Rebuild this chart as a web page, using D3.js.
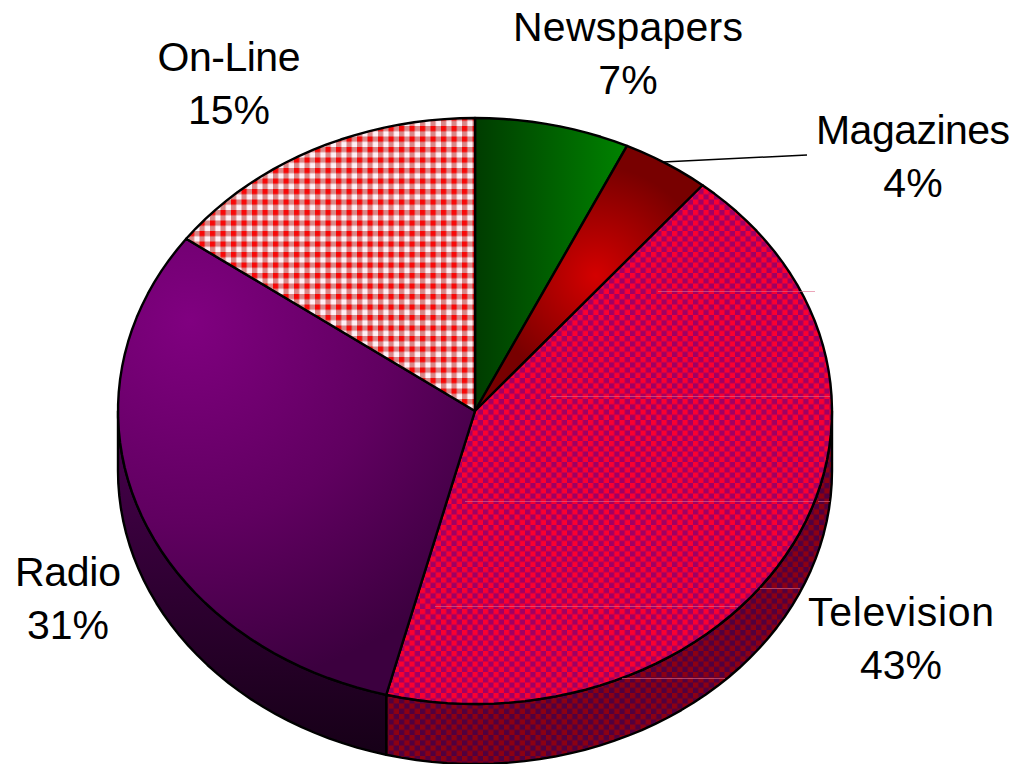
<!DOCTYPE html>
<html>
<head>
<meta charset="utf-8">
<style>
  html, body { margin: 0; padding: 0; background: #fff; overflow: hidden; }
  svg { display: block; }
  text { font-family: "Liberation Sans", Arial, sans-serif; font-size: 41px; fill: #000; text-anchor: middle; }
</style>
<script src="https://cdn.jsdelivr.net/npm/d3@7/dist/d3.min.js"></script>
</head>
<body>
<svg id="chart" width="1016" height="764"></svg>
<script>
// Media share, drawn clockwise from twelve o'clock.
const categories = ["Newspapers", "Magazines", "Television", "Radio", "On-Line"];
const shares = [7, 4, 43, 31, 15];
const sliceFills = ["url(#newsFill)", "url(#magFill)", "url(#tvFill)", "url(#radioFill)", "url(#onlineFill)"];
const wallFills = [null, null, "url(#tvWall)", "url(#radioWall)", null];

// Label anchor for each category: centre x, first baseline, set width of the name.
const labelX = [628, 913, 901, 68, 229];
const labelY = [41, 144, 626, 586, 71];
const labelWidth = [230, 194, 186, 106, 143];

// Thin highlight rules left over from the chart's banded rendering.
const ruleY = [291, 396, 501, 606, 501, 588, 678];
const ruleX0 = [658, 550, 465, 435, 818, 760, 622];
const ruleX1 = [815, 830, 813, 738, 830, 800, 725];

const cx = 475, cy = 411, rx = 357, ry = 293, depth = 60;
const step = Math.PI / 72;

const svg = d3.select("#chart");
const defs = svg.append("defs");

function linear(id, x1, y1, x2, y2, stops) {
  const g = defs.append("linearGradient").attr("id", id)
    .attr("gradientUnits", "userSpaceOnUse")
    .attr("x1", x1).attr("x2", x2).attr("y1", y1).attr("y2", y2);
  stops.forEach(s => g.append("stop").attr("offset", s[0]).attr("stop-color", s[1]));
}
function radial(id, x, y, r, stops) {
  const g = defs.append("radialGradient").attr("id", id)
    .attr("gradientUnits", "userSpaceOnUse")
    .attr("cx", x).attr("cy", y).attr("r", r);
  stops.forEach(s => g.append("stop").attr("offset", s[0]).attr("stop-color", s[1]));
}
// Two-square check over a base colour, so tile joins never show the page through.
function checker(id, size, base, first, second) {
  const p = defs.append("pattern").attr("id", id)
    .attr("patternUnits", "userSpaceOnUse")
    .attr("width", size).attr("height", size);
  const half = size / 2;
  p.append("rect").attr("width", size).attr("height", size).attr("fill", base);
  p.append("rect").attr("width", half).attr("height", half).attr("fill", first);
  p.append("rect").attr("x", half).attr("y", half)
    .attr("width", half).attr("height", half).attr("fill", second);
}

linear("newsFill", 475, 0, 620, 0, [[0, "#003c00"], [1, "#008000"]]);
radial("magFill", 596, 276, 110, [[0, "#d40000"], [0.3, "#b80000"], [1, "#780000"]]);
radial("radioFill", 190, 320, 370, [[0, "#800080"], [0.55, "#600060"], [1, "#3c003f"]]);
linear("radioWall", 0, 440, 0, 750, [[0, "#45004a"], [1, "#170018"]]);
checker("tvFill", 10.5, "#a00064", "#fa0030", "#fa0030");
checker("tvWall", 10.5, "#500040", "#8c0012", "#8c0012");
checker("onlineFill", 10.5, "#d88888", "#f80808", "#fff0f6");

const arcs = d3.pie().value(d => d).sort(null)(shares);

// Angle on the pie to a point on the tilted rim.
const rim = (a, dy) => [cx + rx * Math.sin(a), cy + dy - ry * Math.cos(a)];

function rimPoints(a0, a1, dy) {
  const n = Math.max(1, Math.ceil((a1 - a0) / step));
  return d3.range(n + 1).map(i => rim(a0 + (a1 - a0) * i / n, dy));
}

const line = d3.line();

// Side wall: only the front half of the rim, from 3 o'clock round to 9 o'clock.
const wall = svg.append("g");
arcs.forEach((d, i) => {
  if (!wallFills[i]) return;
  const a0 = Math.max(d.startAngle, Math.PI / 2);
  const a1 = Math.min(d.endAngle, Math.PI * 1.5);
  const pts = rimPoints(a0, a1, 0).concat(rimPoints(a0, a1, depth).reverse());
  wall.append("path")
    .attr("d", line(pts) + "Z")
    .attr("fill", wallFills[i])
    .attr("stroke", "#000").attr("stroke-width", 2.4).attr("stroke-linejoin", "round");
});

// Top face.
svg.append("g").selectAll("path").data(arcs).join("path")
  .attr("d", d => line([[cx, cy]].concat(rimPoints(d.startAngle, d.endAngle, 0))) + "Z")
  .attr("fill", (d, i) => sliceFills[i])
  .attr("stroke", "#000").attr("stroke-width", 2.4).attr("stroke-linejoin", "round");

svg.append("g").selectAll("line").data(ruleY).join("line")
  .attr("x1", (d, i) => ruleX0[i]).attr("x2", (d, i) => ruleX1[i])
  .attr("y1", d => d + 0.5).attr("y2", d => d + 0.5)
  .attr("stroke", "#e06a8a").attr("stroke-opacity", 0.6).attr("stroke-width", 1);

// Leader from the Magazines slice out to its label.
svg.append("path")
  .attr("d", line([rim(arcs[1].startAngle + 0.115, 0), [807, 155]]))
  .attr("fill", "none").attr("stroke", "#000").attr("stroke-width", 1.5);

const labels = svg.append("g").selectAll("text").data(categories).join("text")
  .attr("x", (d, i) => labelX[i]).attr("y", (d, i) => labelY[i]);
labels.append("tspan").text(d => d)
  .attr("textLength", (d, i) => labelWidth[i]);
labels.append("tspan").attr("x", (d, i) => labelX[i]).attr("dy", 53)
  .text((d, i) => shares[i] + "%");
</script>
</body>
</html>
